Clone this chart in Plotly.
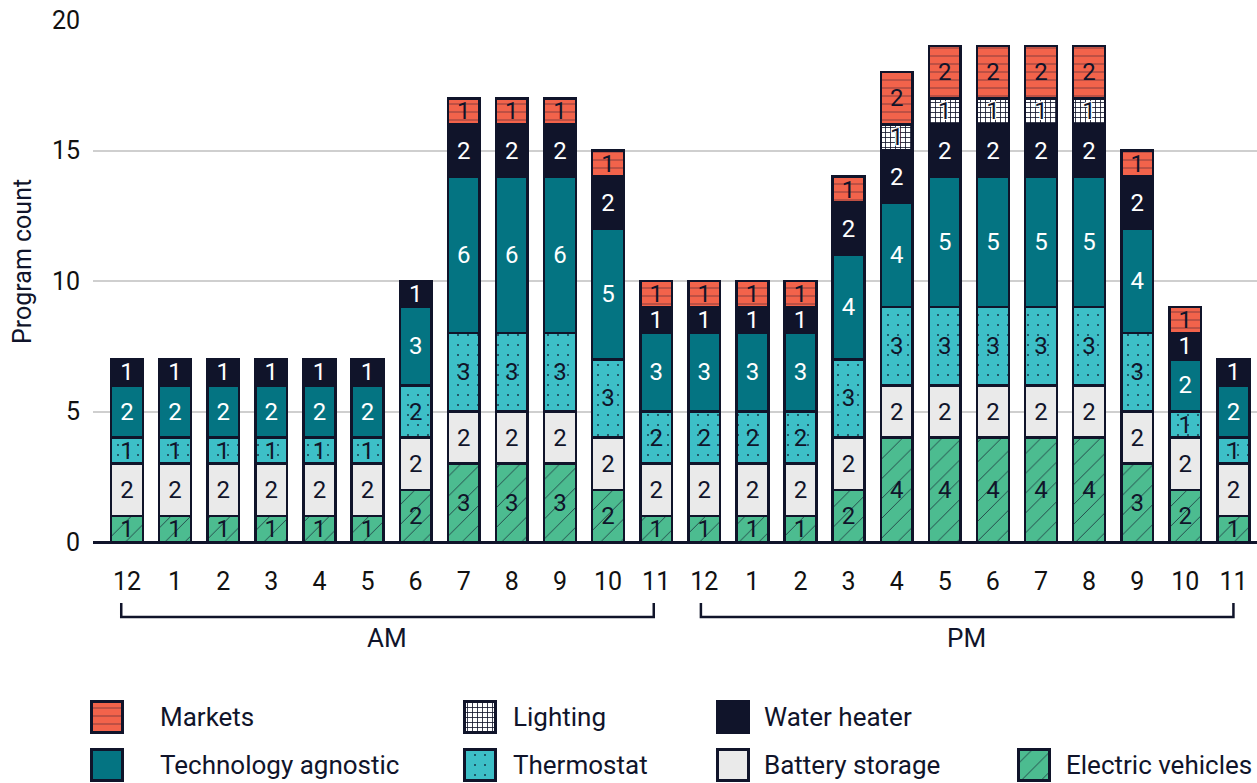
import plotly.graph_objects as go

# Hour of day, 12 AM through 11 PM
hour_labels = ["12", "1", "2", "3", "4", "5", "6", "7", "8", "9", "10", "11",
               "12", "1", "2", "3", "4", "5", "6", "7", "8", "9", "10", "11"]

# Program counts per hour, one list per technology
electric_vehicles = [1, 1, 1, 1, 1, 1, 2, 3, 3, 3, 2, 1,
                     1, 1, 1, 2, 4, 4, 4, 4, 4, 3, 2, 1]
battery_storage = [2, 2, 2, 2, 2, 2, 2, 2, 2, 2, 2, 2,
                   2, 2, 2, 2, 2, 2, 2, 2, 2, 2, 2, 2]
thermostat = [1, 1, 1, 1, 1, 1, 2, 3, 3, 3, 3, 2,
              2, 2, 2, 3, 3, 3, 3, 3, 3, 3, 1, 1]
technology_agnostic = [2, 2, 2, 2, 2, 2, 3, 6, 6, 6, 5, 3,
                       3, 3, 3, 4, 4, 5, 5, 5, 5, 4, 2, 2]
water_heater = [1, 1, 1, 1, 1, 1, 1, 2, 2, 2, 2, 1,
                1, 1, 1, 2, 2, 2, 2, 2, 2, 2, 1, 1]
lighting = [0, 0, 0, 0, 0, 0, 0, 0, 0, 0, 0, 0,
            0, 0, 0, 0, 1, 1, 1, 1, 1, 0, 0, 0]
markets = [0, 0, 0, 0, 0, 0, 0, 1, 1, 1, 1, 1,
           1, 1, 1, 1, 2, 2, 2, 2, 2, 1, 1, 0]

NAVY = "#10142A"
FONT = "Roboto"
W, H = 1257, 783

# name, values, fill colour, pattern shape, pattern size, solidity, pattern opacity, label colour
series = [
    ("Electric vehicles", electric_vehicles, "#4CBC90", "/", 14, 0.06, 0.8, NAVY),
    ("Battery storage", battery_storage, "#EAEAEA", "", 8, 0.1, 1, NAVY),
    ("Thermostat", thermostat, "#3DBFC7", ".", 10, 0.025, 0.9, NAVY),
    ("Technology agnostic", technology_agnostic, "#047482", "", 8, 0.1, 1, "white"),
    ("Water heater", water_heater, NAVY, "", 8, 0.1, 1, "white"),
    ("Lighting", lighting, "white", "+", 5, 0.3, 1, NAVY),
    ("Markets", markets, "#F2634B", "-", 8, 0.1, 0.6, NAVY),
]

# legend swatch placement (pixel space): swatch centre x, row centre y, text x
legend_slots = {
    "Markets": (107, 717, 158),
    "Lighting": (480, 717, 511),
    "Water heater": (733, 717, 762),
    "Technology agnostic": (107, 765, 158),
    "Thermostat": (480, 765, 511),
    "Battery storage": (733, 765, 762),
    "Electric vehicles": (1034, 765, 1064),
}

x_idx = list(range(len(hour_labels)))
fig = go.Figure()

halo = "1px 1px 0 #fff, -1px -1px 0 #fff, 1px -1px 0 #fff, -1px 1px 0 #fff"


def make_marker(color, shape, psize, solid, fgop):
    marker = dict(color=color, line=dict(color=NAVY, width=2.5))
    if shape:
        marker["pattern"] = dict(shape=shape, fgcolor=NAVY, bgcolor=color, size=psize,
                                 solidity=solid, fillmode="overlay", fgopacity=fgop)
    return marker


for name, vals, color, shape, psize, solid, fgop, tcolor in series:
    ys = [v if v else None for v in vals]
    txt = [str(v) if v else "" for v in vals]
    tf = dict(family=FONT, size=24, color=tcolor)
    if name == "Lighting":
        tf["shadow"] = halo
    fig.add_trace(go.Bar(
        x=x_idx, y=ys, name=name, text=txt,
        marker=make_marker(color, shape, psize, solid, fgop),
        textposition="inside", insidetextanchor="middle", textangle=0,
        constraintext="none", textfont=tf, showlegend=False,
        xaxis="x", yaxis="y", hoverinfo="skip",
    ))

# legend swatches drawn as bars in a pixel-space overlay
for name, vals, color, shape, psize, solid, fgop, tcolor in series:
    cx, cy, tx = legend_slots[name]
    fig.add_trace(go.Bar(
        x=[cx], y=[31], base=[cy - 15.5], width=[31],
        marker=make_marker(color, shape, psize, solid, fgop),
        showlegend=False, xaxis="x2", yaxis="y2", hoverinfo="skip",
    ))
    fig.add_annotation(x=tx, y=cy, xref="x2", yref="y2", text=name,
                       showarrow=False, xanchor="left", yanchor="middle",
                       font=dict(family=FONT, size=26, color=NAVY))

# AM / PM brackets under the hour labels
for x0, x1, label, lx in [(-0.12, 10.95, "AM", 5.41), (11.93, 23.0, "PM", 17.46)]:
    fig.add_shape(type="path", xref="x", yref="y2",
                  path=f"M {x0},603 L {x0},617 L {x1},617 L {x1},603",
                  line=dict(color=NAVY, width=2.5))
    fig.add_annotation(x=lx, y=638, xref="x", yref="y2", text=label,
                       showarrow=False, font=dict(family=FONT, size=26, color=NAVY))

# y-axis title
fig.add_annotation(x=22, y=262, xref="x2", yref="y2", text="Program count",
                   textangle=-90, showarrow=False,
                   font=dict(family=FONT, size=25, color=NAVY))

y_bottom = 1 - 542 / H
y_top = 1 - 20 / H

fig.update_layout(
    width=W, height=H,
    margin=dict(l=0, r=0, t=0, b=0),
    paper_bgcolor="white", plot_bgcolor="rgba(0,0,0,0)",
    barmode="stack", bargap=0.34,
    font=dict(family=FONT, color=NAVY),
    xaxis=dict(domain=[93 / W, 1], range=[-0.707, 23.49],
               tickmode="array", tickvals=x_idx, ticktext=hour_labels,
               tickfont=dict(family=FONT, size=25, color="#111111"),
               ticks="outside", ticklen=17, tickcolor="rgba(0,0,0,0)",
               showgrid=False, zeroline=False, showline=False,
               automargin=False, fixedrange=True),
    yaxis=dict(domain=[y_bottom, y_top], range=[0, 20],
               tickvals=[0, 5, 10, 15, 20],
               tickfont=dict(family=FONT, size=25, color="#111111"),
               ticklabelstandoff=12,
               showgrid=True, gridcolor="#CFCFCF", gridwidth=2,
               zeroline=True, zerolinecolor=NAVY, zerolinewidth=2.5,
               showline=False, automargin=False, fixedrange=True),
    xaxis2=dict(domain=[0, 1], range=[0, W], anchor="y2",
                visible=False, fixedrange=True),
    yaxis2=dict(domain=[0, 1], range=[H, 0], anchor="x2",
                visible=False, fixedrange=True),
)

fig.write_html("out.html")
